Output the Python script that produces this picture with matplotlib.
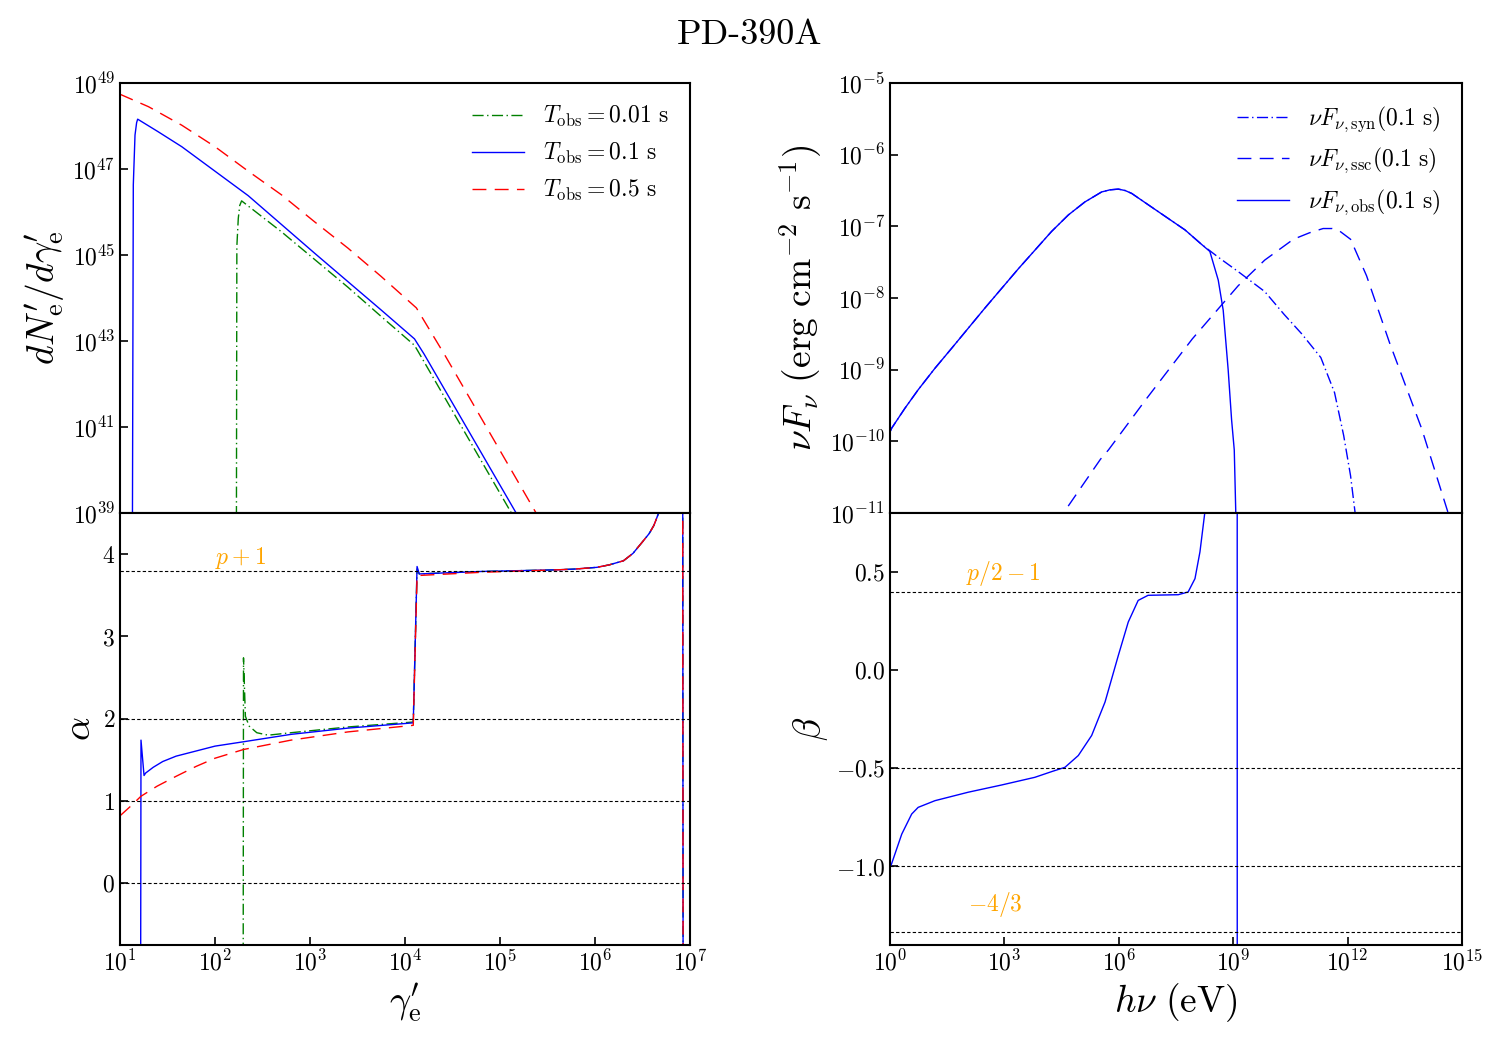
import numpy as np
import matplotlib
matplotlib.use("Agg")
import matplotlib.pyplot as plt

plt.rcParams['font.family'] = 'serif'
plt.rcParams['font.serif'] = ['cmr10', 'DejaVu Serif']
plt.rcParams['mathtext.fontset'] = 'cm'
plt.rcParams['axes.formatter.use_mathtext'] = True
plt.rcParams['axes.unicode_minus'] = True

# ---- electron spectra, log10(gamma'_e) vs log10(dN/dgamma)
lg_001 = [2.225, 2.23, 2.245, 2.26, 2.28, 2.70, 3.40, 3.75, 4.1, 4.14, 5.12, 5.25]
ln_001 = [38.0, 45.2, 45.85, 46.15, 46.26, 45.54, 44.25, 43.57, 42.90, 42.75, 39.0, 38.5]
lg_01 = [1.13, 1.14, 1.158, 1.175, 1.186, 1.4, 1.65, 2.35, 3.05, 3.75, 4.1, 4.2, 5.17, 5.3]
ln_01 = [38.0, 46.63, 47.79, 48.08, 48.16, 47.87, 47.52, 46.38, 45.04, 43.72, 43.05,
         42.7, 39.0, 38.5]
lg_05 = [1.0, 1.30, 1.65, 2.0, 2.35, 2.70, 3.05, 3.40, 3.75, 4.12, 4.42, 5.38, 5.5]
ln_05 = [48.74, 48.45, 48.02, 47.52, 46.95, 46.40, 45.77, 45.16, 44.50, 43.77, 42.67,
         39.0, 38.5]

# ---- electron spectral index alpha
ag_001 = [2.295, 2.30, 2.32, 2.36, 2.44, 2.56, 2.80, 3.40, 4.087, 4.127, 4.15, 4.81,
          5.61, 5.8, 6.02, 6.15, 6.30, 6.40, 6.50, 6.57, 6.62, 6.67, 6.75, 6.92, 6.93]
av_001 = [-3.0, 2.74, 2.03, 1.91, 1.83, 1.80, 1.83, 1.90, 1.96, 3.82, 3.76, 3.79,
          3.81, 3.82, 3.84, 3.87, 3.92, 4.01, 4.15, 4.25, 4.35, 4.5, 5.5, 10.0, -5.0]
ag_01 = [1.215, 1.221, 1.253, 1.27, 1.35, 1.45, 1.59, 2.0, 2.30, 2.80, 3.40, 4.087,
         4.127, 4.15, 4.81, 5.61, 5.8, 6.02, 6.15, 6.30, 6.40, 6.50, 6.57, 6.62, 6.67,
         6.75, 6.92, 6.93]
av_01 = [-3.0, 1.74, 1.31, 1.34, 1.41, 1.48, 1.545, 1.667, 1.72, 1.81, 1.886, 1.95,
         3.85, 3.76, 3.79, 3.81, 3.82, 3.84, 3.87, 3.92, 4.01, 4.15, 4.25, 4.35, 4.5,
         5.5, 10.0, -5.0]
ag_05 = [1.0, 1.11, 1.22, 1.39, 1.59, 1.80, 2.0, 2.30, 2.80, 3.40, 4.087, 4.127,
         4.81, 5.61, 5.8, 6.02, 6.15, 6.30, 6.40, 6.50, 6.57, 6.62, 6.67, 6.75, 6.92,
         6.93]
av_05 = [0.82, 0.935, 1.057, 1.18, 1.30, 1.42, 1.52, 1.626, 1.74, 1.84, 1.92, 3.74,
         3.78, 3.81, 3.82, 3.84, 3.87, 3.92, 4.01, 4.15, 4.25, 4.35, 4.5, 5.5, 10.0,
         -5.0]

# ---- photon spectra (0.1 s), log10(h nu / eV) vs log10(nu F_nu)
ev_low = [0.0, 0.04, 0.39, 0.74, 1.18, 1.62, 2.49, 3.37, 4.24, 4.68, 5.11, 5.55,
          5.77, 5.99, 6.17, 6.34, 6.86, 7.74, 8.17]
fl_low = [-9.87, -9.82, -9.54, -9.28, -8.98, -8.70, -8.14, -7.59, -7.07, -6.84,
          -6.66, -6.52, -6.49, -6.48, -6.50, -6.54, -6.73, -7.05, -7.25]
ev_syn = [8.61, 9.13, 9.83, 10.34, 10.8, 11.30, 11.66, 11.9, 12.08, 12.2, 12.3]
fl_syn = [-7.43, -7.63, -7.91, -8.23, -8.50, -8.83, -9.32, -9.92, -10.48, -11.0, -11.6]
ev_obs = [8.39, 8.61, 8.74, 8.87, 8.96, 9.03, 9.07, 9.09]
fl_obs = [-7.35, -7.75, -8.17, -9.0, -9.70, -10.12, -11.0, -11.5]
ev_ssc = [4.45, 4.55, 5.52, 5.73, 6.72, 7.93, 9.13, 9.83, 10.58, 11.0, 11.36, 11.6,
          11.78, 12.08, 12.5, 13.1, 13.95, 14.64, 14.75]
fl_ssc = [-11.5, -11.0, -10.25, -10.12, -9.41, -8.57, -7.83, -7.47, -7.18, -7.09,
          -7.03, -7.03, -7.06, -7.18, -7.69, -8.62, -9.83, -11.0, -11.4]

# ---- photon index beta
bx = [0.0, 0.04, 0.31, 0.57, 0.74, 1.18, 2.05, 2.93, 3.80, 4.24, 4.59, 4.94, 5.29,
      5.64, 5.99, 6.25, 6.51, 6.77, 7.56, 7.82, 8.0, 8.13, 8.26, 8.5, 9.10, 9.115]
by = [-1.003, -0.988, -0.835, -0.733, -0.699, -0.665, -0.622, -0.585, -0.546, -0.517,
      -0.495, -0.435, -0.333, -0.163, 0.075, 0.245, 0.355, 0.381, 0.384, 0.398, 0.466,
      0.602, 0.806, 3.0, 20.0, -20.0]

p = 2.8
alpha_refs = [0.0, 1.0, 2.0, p + 1]
beta_refs = [p / 2 - 1, -0.5, -1.0, -4.0 / 3]


def p10(a):
    return 10 ** np.array(a)


fig = plt.figure(figsize=(15, 10.5), dpi=100)
ax1 = fig.add_axes([0.08, 0.5114, 0.38, 0.4095])
ax2 = fig.add_axes([0.08, 0.1, 0.38, 0.4114], sharex=ax1)
ax3 = fig.add_axes([0.5933, 0.5114, 0.3813, 0.4095])
ax4 = fig.add_axes([0.5933, 0.1, 0.3813, 0.4114], sharex=ax3)

lw = 1.0
dd = (8, 2.5, 1, 2.5)
ds = (10, 6)

ax1.plot(p10(lg_001), p10(ln_001), color='g', lw=lw, dashes=dd, label=r'$T_{\rm obs}=0.01$ s')
ax1.plot(p10(lg_01), p10(ln_01), color='b', lw=lw, label=r'$T_{\rm obs}=0.1$ s')
ax1.plot(p10(lg_05), p10(ln_05), color='r', lw=lw, dashes=ds, label=r'$T_{\rm obs}=0.5$ s')
ax1.set_xscale('log')
ax1.set_yscale('log')
ax1.set_xlim(10, 1e7)
ax1.set_ylim(1e39, 1e49)
ax1.set_yticks([10.0 ** k for k in range(39, 50, 2)])
ax1.set_ylabel(r"$dN_{\rm e}'/d\gamma_{\rm e}'$", fontsize=27)
ax1.legend(loc='upper right', frameon=False, fontsize=17, handlelength=2.2)

ax2.plot(p10(ag_001), av_001, color='g', lw=lw, dashes=dd)
ax2.plot(p10(ag_01), av_01, color='b', lw=lw)
ax2.plot(p10(ag_05), av_05, color='r', lw=lw, dashes=ds)
for v in alpha_refs:
    ax2.axhline(v, color='k', lw=0.8, dashes=(3, 2))
ax2.text(10 ** 2.0, 3.88, r'$p+1$', color='orange', fontsize=17)
ax2.set_ylim(-0.75, 4.5)
ax2.set_yticks([0, 1, 2, 3, 4])
ax2.set_xticks([10.0 ** k for k in range(1, 8)])
ax2.set_ylabel(r'$\alpha$', fontsize=27)
ax2.set_xlabel(r"$\gamma_{\rm e}'$", fontsize=27)

ax3.plot(p10(ev_low + ev_syn), p10(fl_low + fl_syn), color='b', lw=lw, dashes=dd,
         label=r'$\nu F_{\nu,\rm syn}(0.1\ \rm s)$')
ax3.plot(p10(ev_ssc), p10(fl_ssc), color='b', lw=lw, dashes=ds,
         label=r'$\nu F_{\nu,\rm ssc}(0.1\ \rm s)$')
ax3.plot(p10(ev_low + ev_obs), p10(fl_low + fl_obs), color='b', lw=lw,
         label=r'$\nu F_{\nu,\rm obs}(0.1\ \rm s)$')
ax3.set_xscale('log')
ax3.set_yscale('log')
ax3.set_xlim(1, 1e15)
ax3.set_ylim(1e-11, 1e-5)
ax3.set_yticks([10.0 ** k for k in range(-11, -4)])
ax3.set_ylabel(r'$\nu F_\nu\ (\rm erg\ cm^{-2}\ s^{-1})$', fontsize=27)
ax3.legend(loc='upper right', frameon=False, fontsize=17, handlelength=2.2)

ax4.plot(p10(bx), by, color='b', lw=lw)
for v in beta_refs:
    ax4.axhline(v, color='k', lw=0.8, dashes=(3, 2))
ax4.text(10 ** 2.0, 0.46, r'$p/2-1$', color='orange', fontsize=17)
ax4.text(10 ** 2.05, -1.228, r'$-4/3$', color='orange', fontsize=17)
ax4.set_ylim(-1.4, 0.8)
ax4.set_yticks([-1.0, -0.5, 0.0, 0.5])
ax4.set_xticks([10.0 ** k for k in range(0, 16, 3)])
ax4.set_ylabel(r'$\beta$', fontsize=27)
ax4.set_xlabel(r'$h\nu\ (\rm eV)$', fontsize=27)

for ax in (ax1, ax2, ax3, ax4):
    ax.minorticks_off()
    ax.tick_params(direction='in', length=6, width=1.2, labelsize=17,
                   top=False, right=False)
    for s in ax.spines.values():
        s.set_linewidth(1.5)
for ax in (ax1, ax3):
    ax.tick_params(axis='x', bottom=False, labelbottom=False)

fig.text(0.5, 1 - 35 / 1050, 'PD-390A', ha='center', va='center', fontsize=26)

fig.savefig('out.png', dpi=100)
